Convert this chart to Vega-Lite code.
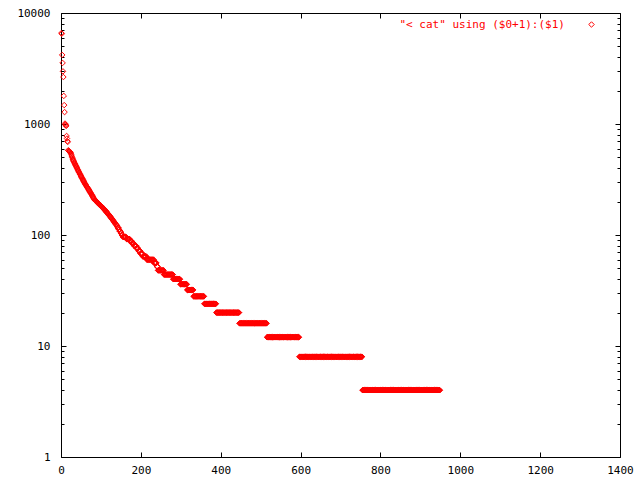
{
"$schema": "https://vega.github.io/schema/vega-lite/v6.json",
"width": 559, "height": 444,
"autosize": "none",
"padding": {"left": 61, "top": 13, "right": 20, "bottom": 23},
"background": "white",
"config": {
  "view": {"stroke": "#000000", "strokeWidth": 1},
  "font": "DejaVu Sans Mono",
  "axis": {"domain": false, "grid": false, "labelFont": "DejaVu Sans Mono", "labelFontSize": 11, "labelColor": "#000000", "tickColor": "#000000", "tickWidth": 1, "labelFlush": false, "labelOverlap": false, "title": null}
},
"data": {"values": [
{"rank":1,"count":6600},{"rank":2,"count":6500},{"rank":3,"count":4190},{"rank":4,"count":3550},{"rank":5,"count":2980},{"rank":6,"count":2650},{"rank":7,"count":1790},{"rank":8,"count":1480},{"rank":9,"count":1280},{"rank":10,"count":1010},
{"rank":11,"count":990},{"rank":12,"count":975},{"rank":13,"count":960},{"rank":14,"count":780},{"rank":15,"count":740},{"rank":16,"count":700},{"rank":17,"count":690},{"rank":18,"count":580},{"rank":19,"count":575},{"rank":20,"count":571},
{"rank":21,"count":567},{"rank":22,"count":563},{"rank":23,"count":559},{"rank":24,"count":555},{"rank":25,"count":541},{"rank":26,"count":527},{"rank":27,"count":514},{"rank":28,"count":501},{"rank":29,"count":488},{"rank":30,"count":476},
{"rank":31,"count":468},{"rank":32,"count":460},{"rank":33,"count":452},{"rank":34,"count":444},{"rank":35,"count":437},{"rank":36,"count":429},{"rank":37,"count":422},{"rank":38,"count":415},{"rank":39,"count":408},{"rank":40,"count":401},
{"rank":41,"count":394},{"rank":42,"count":388},{"rank":43,"count":381},{"rank":44,"count":375},{"rank":45,"count":368},{"rank":46,"count":362},{"rank":47,"count":356},{"rank":48,"count":351},{"rank":49,"count":345},{"rank":50,"count":340},
{"rank":51,"count":334},{"rank":52,"count":329},{"rank":53,"count":324},{"rank":54,"count":319},{"rank":55,"count":314},{"rank":56,"count":309},{"rank":57,"count":304},{"rank":58,"count":299},{"rank":59,"count":294},{"rank":60,"count":290},
{"rank":61,"count":286},{"rank":62,"count":282},{"rank":63,"count":279},{"rank":64,"count":275},{"rank":65,"count":271},{"rank":66,"count":268},{"rank":67,"count":264},{"rank":68,"count":261},{"rank":69,"count":257},{"rank":70,"count":254},
{"rank":71,"count":250},{"rank":72,"count":247},{"rank":73,"count":243},{"rank":74,"count":240},{"rank":75,"count":237},{"rank":76,"count":233},{"rank":77,"count":230},{"rank":78,"count":227},{"rank":79,"count":223},{"rank":80,"count":220},
{"rank":81,"count":217},{"rank":82,"count":214},{"rank":83,"count":211},{"rank":84,"count":208},{"rank":85,"count":206},{"rank":86,"count":205},{"rank":87,"count":203},{"rank":88,"count":201},{"rank":89,"count":200},{"rank":90,"count":198},
{"rank":91,"count":196},{"rank":92,"count":195},{"rank":93,"count":193},{"rank":94,"count":192},{"rank":95,"count":190},{"rank":96,"count":189},{"rank":97,"count":187},{"rank":98,"count":186},{"rank":99,"count":184},{"rank":100,"count":183},
{"rank":101,"count":181},{"rank":102,"count":179},{"rank":103,"count":178},{"rank":104,"count":176},{"rank":105,"count":175},{"rank":106,"count":173},{"rank":107,"count":172},{"rank":108,"count":170},{"rank":109,"count":169},{"rank":110,"count":167},
{"rank":111,"count":166},{"rank":112,"count":164},{"rank":113,"count":163},{"rank":114,"count":161},{"rank":115,"count":160},{"rank":116,"count":158},{"rank":117,"count":156},{"rank":118,"count":155},{"rank":119,"count":153},{"rank":120,"count":151},
{"rank":121,"count":150},{"rank":122,"count":148},{"rank":123,"count":147},{"rank":124,"count":145},{"rank":125,"count":144},{"rank":126,"count":142},{"rank":127,"count":140},{"rank":128,"count":139},{"rank":129,"count":137},{"rank":130,"count":136},
{"rank":131,"count":134},{"rank":132,"count":133},{"rank":133,"count":131},{"rank":134,"count":130},{"rank":135,"count":128},{"rank":136,"count":127},{"rank":137,"count":125},{"rank":138,"count":124},{"rank":139,"count":123},{"rank":140,"count":121},
{"rank":141,"count":120},{"rank":142,"count":116},{"rank":143,"count":116},{"rank":144,"count":116},{"rank":145,"count":112},{"rank":146,"count":112},{"rank":147,"count":108},{"rank":148,"count":108},{"rank":149,"count":108},{"rank":150,"count":104},
{"rank":151,"count":104},{"rank":152,"count":100},{"rank":153,"count":100},{"rank":154,"count":100},{"rank":155,"count":96},{"rank":156,"count":96},{"rank":157,"count":96},{"rank":158,"count":96},{"rank":159,"count":96},{"rank":160,"count":96},
{"rank":161,"count":96},{"rank":162,"count":96},{"rank":163,"count":96},{"rank":164,"count":92},{"rank":165,"count":92},{"rank":166,"count":92},{"rank":167,"count":92},{"rank":168,"count":92},{"rank":169,"count":92},{"rank":170,"count":92},
{"rank":171,"count":92},{"rank":172,"count":92},{"rank":173,"count":88},{"rank":174,"count":88},{"rank":175,"count":88},{"rank":176,"count":88},{"rank":177,"count":88},{"rank":178,"count":84},{"rank":179,"count":84},{"rank":180,"count":84},
{"rank":181,"count":84},{"rank":182,"count":84},{"rank":183,"count":80},{"rank":184,"count":80},{"rank":185,"count":80},{"rank":186,"count":80},{"rank":187,"count":80},{"rank":188,"count":80},{"rank":189,"count":76},{"rank":190,"count":76},
{"rank":191,"count":76},{"rank":192,"count":76},{"rank":193,"count":76},{"rank":194,"count":72},{"rank":195,"count":72},{"rank":196,"count":72},{"rank":197,"count":72},{"rank":198,"count":72},{"rank":199,"count":68},{"rank":200,"count":68},
{"rank":201,"count":68},{"rank":202,"count":68},{"rank":203,"count":68},{"rank":204,"count":68},{"rank":205,"count":64},{"rank":206,"count":64},{"rank":207,"count":64},{"rank":208,"count":64},{"rank":209,"count":64},{"rank":210,"count":64},
{"rank":211,"count":64},{"rank":212,"count":64},{"rank":213,"count":64},{"rank":214,"count":64},{"rank":215,"count":60},{"rank":216,"count":60},{"rank":217,"count":60},{"rank":218,"count":60},{"rank":219,"count":60},{"rank":220,"count":60},
{"rank":221,"count":60},{"rank":222,"count":60},{"rank":223,"count":60},{"rank":224,"count":60},{"rank":225,"count":60},{"rank":226,"count":60},{"rank":227,"count":60},{"rank":228,"count":60},{"rank":229,"count":60},{"rank":230,"count":60},
{"rank":231,"count":60},{"rank":232,"count":60},{"rank":233,"count":56},{"rank":234,"count":56},{"rank":235,"count":56},{"rank":236,"count":56},{"rank":237,"count":56},{"rank":238,"count":56},{"rank":239,"count":56},{"rank":240,"count":52},
{"rank":241,"count":52},{"rank":242,"count":52},{"rank":243,"count":48},{"rank":244,"count":48},{"rank":245,"count":48},{"rank":246,"count":48},{"rank":247,"count":48},{"rank":248,"count":48},{"rank":249,"count":48},{"rank":250,"count":48},
{"rank":251,"count":48},{"rank":252,"count":48},{"rank":253,"count":48},{"rank":254,"count":48},{"rank":255,"count":48},{"rank":256,"count":48},{"rank":257,"count":48},{"rank":258,"count":44},{"rank":259,"count":44},{"rank":260,"count":44},
{"rank":261,"count":44},{"rank":262,"count":44},{"rank":263,"count":44},{"rank":264,"count":44},{"rank":265,"count":44},{"rank":266,"count":44},{"rank":267,"count":44},{"rank":268,"count":44},{"rank":269,"count":44},{"rank":270,"count":44},
{"rank":271,"count":44},{"rank":272,"count":44},{"rank":273,"count":44},{"rank":274,"count":44},{"rank":275,"count":44},{"rank":276,"count":44},{"rank":277,"count":44},{"rank":278,"count":44},{"rank":279,"count":44},{"rank":280,"count":44},
{"rank":281,"count":40},{"rank":282,"count":40},{"rank":283,"count":40},{"rank":284,"count":40},{"rank":285,"count":40},{"rank":286,"count":40},{"rank":287,"count":40},{"rank":288,"count":40},{"rank":289,"count":40},{"rank":290,"count":40},
{"rank":291,"count":40},{"rank":292,"count":40},{"rank":293,"count":40},{"rank":294,"count":40},{"rank":295,"count":40},{"rank":296,"count":40},{"rank":297,"count":40},{"rank":298,"count":40},{"rank":299,"count":36},{"rank":300,"count":36},
{"rank":301,"count":36},{"rank":302,"count":36},{"rank":303,"count":36},{"rank":304,"count":36},{"rank":305,"count":36},{"rank":306,"count":36},{"rank":307,"count":36},{"rank":308,"count":36},{"rank":309,"count":36},{"rank":310,"count":36},
{"rank":311,"count":36},{"rank":312,"count":36},{"rank":313,"count":36},{"rank":314,"count":36},{"rank":315,"count":36},{"rank":316,"count":32},{"rank":317,"count":32},{"rank":318,"count":32},{"rank":319,"count":32},{"rank":320,"count":32},
{"rank":321,"count":32},{"rank":322,"count":32},{"rank":323,"count":32},{"rank":324,"count":32},{"rank":325,"count":32},{"rank":326,"count":32},{"rank":327,"count":32},{"rank":328,"count":32},{"rank":329,"count":32},{"rank":330,"count":32},
{"rank":331,"count":32},{"rank":332,"count":28},{"rank":333,"count":28},{"rank":334,"count":28},{"rank":335,"count":28},{"rank":336,"count":28},{"rank":337,"count":28},{"rank":338,"count":28},{"rank":339,"count":28},{"rank":340,"count":28},
{"rank":341,"count":28},{"rank":342,"count":28},{"rank":343,"count":28},{"rank":344,"count":28},{"rank":345,"count":28},{"rank":346,"count":28},{"rank":347,"count":28},{"rank":348,"count":28},{"rank":349,"count":28},{"rank":350,"count":28},
{"rank":351,"count":28},{"rank":352,"count":28},{"rank":353,"count":28},{"rank":354,"count":28},{"rank":355,"count":28},{"rank":356,"count":28},{"rank":357,"count":28},{"rank":358,"count":28},{"rank":359,"count":24},{"rank":360,"count":24},
{"rank":361,"count":24},{"rank":362,"count":24},{"rank":363,"count":24},{"rank":364,"count":24},{"rank":365,"count":24},{"rank":366,"count":24},{"rank":367,"count":24},{"rank":368,"count":24},{"rank":369,"count":24},{"rank":370,"count":24},
{"rank":371,"count":24},{"rank":372,"count":24},{"rank":373,"count":24},{"rank":374,"count":24},{"rank":375,"count":24},{"rank":376,"count":24},{"rank":377,"count":24},{"rank":378,"count":24},{"rank":379,"count":24},{"rank":380,"count":24},
{"rank":381,"count":24},{"rank":382,"count":24},{"rank":383,"count":24},{"rank":384,"count":24},{"rank":385,"count":24},{"rank":386,"count":24},{"rank":387,"count":24},{"rank":388,"count":24},{"rank":389,"count":20},{"rank":390,"count":20},
{"rank":391,"count":20},{"rank":392,"count":20},{"rank":393,"count":20},{"rank":394,"count":20},{"rank":395,"count":20},{"rank":396,"count":20},{"rank":397,"count":20},{"rank":398,"count":20},{"rank":399,"count":20},{"rank":400,"count":20},
{"rank":401,"count":20},{"rank":402,"count":20},{"rank":403,"count":20},{"rank":404,"count":20},{"rank":405,"count":20},{"rank":406,"count":20},{"rank":407,"count":20},{"rank":408,"count":20},{"rank":409,"count":20},{"rank":410,"count":20},
{"rank":411,"count":20},{"rank":412,"count":20},{"rank":413,"count":20},{"rank":414,"count":20},{"rank":415,"count":20},{"rank":416,"count":20},{"rank":417,"count":20},{"rank":418,"count":20},{"rank":419,"count":20},{"rank":420,"count":20},
{"rank":421,"count":20},{"rank":422,"count":20},{"rank":423,"count":20},{"rank":424,"count":20},{"rank":425,"count":20},{"rank":426,"count":20},{"rank":427,"count":20},{"rank":428,"count":20},{"rank":429,"count":20},{"rank":430,"count":20},
{"rank":431,"count":20},{"rank":432,"count":20},{"rank":433,"count":20},{"rank":434,"count":20},{"rank":435,"count":20},{"rank":436,"count":20},{"rank":437,"count":20},{"rank":438,"count":20},{"rank":439,"count":20},{"rank":440,"count":20},
{"rank":441,"count":20},{"rank":442,"count":20},{"rank":443,"count":20},{"rank":444,"count":20},{"rank":445,"count":20},{"rank":446,"count":20},{"rank":447,"count":16},{"rank":448,"count":16},{"rank":449,"count":16},{"rank":450,"count":16},
{"rank":451,"count":16},{"rank":452,"count":16},{"rank":453,"count":16},{"rank":454,"count":16},{"rank":455,"count":16},{"rank":456,"count":16},{"rank":457,"count":16},{"rank":458,"count":16},{"rank":459,"count":16},{"rank":460,"count":16},
{"rank":461,"count":16},{"rank":462,"count":16},{"rank":463,"count":16},{"rank":464,"count":16},{"rank":465,"count":16},{"rank":466,"count":16},{"rank":467,"count":16},{"rank":468,"count":16},{"rank":469,"count":16},{"rank":470,"count":16},
{"rank":471,"count":16},{"rank":472,"count":16},{"rank":473,"count":16},{"rank":474,"count":16},{"rank":475,"count":16},{"rank":476,"count":16},{"rank":477,"count":16},{"rank":478,"count":16},{"rank":479,"count":16},{"rank":480,"count":16},
{"rank":481,"count":16},{"rank":482,"count":16},{"rank":483,"count":16},{"rank":484,"count":16},{"rank":485,"count":16},{"rank":486,"count":16},{"rank":487,"count":16},{"rank":488,"count":16},{"rank":489,"count":16},{"rank":490,"count":16},
{"rank":491,"count":16},{"rank":492,"count":16},{"rank":493,"count":16},{"rank":494,"count":16},{"rank":495,"count":16},{"rank":496,"count":16},{"rank":497,"count":16},{"rank":498,"count":16},{"rank":499,"count":16},{"rank":500,"count":16},
{"rank":501,"count":16},{"rank":502,"count":16},{"rank":503,"count":16},{"rank":504,"count":16},{"rank":505,"count":16},{"rank":506,"count":16},{"rank":507,"count":16},{"rank":508,"count":16},{"rank":509,"count":16},{"rank":510,"count":16},
{"rank":511,"count":16},{"rank":512,"count":16},{"rank":513,"count":16},{"rank":514,"count":16},{"rank":515,"count":16},{"rank":516,"count":12},{"rank":517,"count":12},{"rank":518,"count":12},{"rank":519,"count":12},{"rank":520,"count":12},
{"rank":521,"count":12},{"rank":522,"count":12},{"rank":523,"count":12},{"rank":524,"count":12},{"rank":525,"count":12},{"rank":526,"count":12},{"rank":527,"count":12},{"rank":528,"count":12},{"rank":529,"count":12},{"rank":530,"count":12},
{"rank":531,"count":12},{"rank":532,"count":12},{"rank":533,"count":12},{"rank":534,"count":12},{"rank":535,"count":12},{"rank":536,"count":12},{"rank":537,"count":12},{"rank":538,"count":12},{"rank":539,"count":12},{"rank":540,"count":12},
{"rank":541,"count":12},{"rank":542,"count":12},{"rank":543,"count":12},{"rank":544,"count":12},{"rank":545,"count":12},{"rank":546,"count":12},{"rank":547,"count":12},{"rank":548,"count":12},{"rank":549,"count":12},{"rank":550,"count":12},
{"rank":551,"count":12},{"rank":552,"count":12},{"rank":553,"count":12},{"rank":554,"count":12},{"rank":555,"count":12},{"rank":556,"count":12},{"rank":557,"count":12},{"rank":558,"count":12},{"rank":559,"count":12},{"rank":560,"count":12},
{"rank":561,"count":12},{"rank":562,"count":12},{"rank":563,"count":12},{"rank":564,"count":12},{"rank":565,"count":12},{"rank":566,"count":12},{"rank":567,"count":12},{"rank":568,"count":12},{"rank":569,"count":12},{"rank":570,"count":12},
{"rank":571,"count":12},{"rank":572,"count":12},{"rank":573,"count":12},{"rank":574,"count":12},{"rank":575,"count":12},{"rank":576,"count":12},{"rank":577,"count":12},{"rank":578,"count":12},{"rank":579,"count":12},{"rank":580,"count":12},
{"rank":581,"count":12},{"rank":582,"count":12},{"rank":583,"count":12},{"rank":584,"count":12},{"rank":585,"count":12},{"rank":586,"count":12},{"rank":587,"count":12},{"rank":588,"count":12},{"rank":589,"count":12},{"rank":590,"count":12},
{"rank":591,"count":12},{"rank":592,"count":12},{"rank":593,"count":12},{"rank":594,"count":12},{"rank":595,"count":12},{"rank":596,"count":12},{"rank":597,"count":8},{"rank":598,"count":8},{"rank":599,"count":8},{"rank":600,"count":8},
{"rank":601,"count":8},{"rank":602,"count":8},{"rank":603,"count":8},{"rank":604,"count":8},{"rank":605,"count":8},{"rank":606,"count":8},{"rank":607,"count":8},{"rank":608,"count":8},{"rank":609,"count":8},{"rank":610,"count":8},
{"rank":611,"count":8},{"rank":612,"count":8},{"rank":613,"count":8},{"rank":614,"count":8},{"rank":615,"count":8},{"rank":616,"count":8},{"rank":617,"count":8},{"rank":618,"count":8},{"rank":619,"count":8},{"rank":620,"count":8},
{"rank":621,"count":8},{"rank":622,"count":8},{"rank":623,"count":8},{"rank":624,"count":8},{"rank":625,"count":8},{"rank":626,"count":8},{"rank":627,"count":8},{"rank":628,"count":8},{"rank":629,"count":8},{"rank":630,"count":8},
{"rank":631,"count":8},{"rank":632,"count":8},{"rank":633,"count":8},{"rank":634,"count":8},{"rank":635,"count":8},{"rank":636,"count":8},{"rank":637,"count":8},{"rank":638,"count":8},{"rank":639,"count":8},{"rank":640,"count":8},
{"rank":641,"count":8},{"rank":642,"count":8},{"rank":643,"count":8},{"rank":644,"count":8},{"rank":645,"count":8},{"rank":646,"count":8},{"rank":647,"count":8},{"rank":648,"count":8},{"rank":649,"count":8},{"rank":650,"count":8},
{"rank":651,"count":8},{"rank":652,"count":8},{"rank":653,"count":8},{"rank":654,"count":8},{"rank":655,"count":8},{"rank":656,"count":8},{"rank":657,"count":8},{"rank":658,"count":8},{"rank":659,"count":8},{"rank":660,"count":8},
{"rank":661,"count":8},{"rank":662,"count":8},{"rank":663,"count":8},{"rank":664,"count":8},{"rank":665,"count":8},{"rank":666,"count":8},{"rank":667,"count":8},{"rank":668,"count":8},{"rank":669,"count":8},{"rank":670,"count":8},
{"rank":671,"count":8},{"rank":672,"count":8},{"rank":673,"count":8},{"rank":674,"count":8},{"rank":675,"count":8},{"rank":676,"count":8},{"rank":677,"count":8},{"rank":678,"count":8},{"rank":679,"count":8},{"rank":680,"count":8},
{"rank":681,"count":8},{"rank":682,"count":8},{"rank":683,"count":8},{"rank":684,"count":8},{"rank":685,"count":8},{"rank":686,"count":8},{"rank":687,"count":8},{"rank":688,"count":8},{"rank":689,"count":8},{"rank":690,"count":8},
{"rank":691,"count":8},{"rank":692,"count":8},{"rank":693,"count":8},{"rank":694,"count":8},{"rank":695,"count":8},{"rank":696,"count":8},{"rank":697,"count":8},{"rank":698,"count":8},{"rank":699,"count":8},{"rank":700,"count":8},
{"rank":701,"count":8},{"rank":702,"count":8},{"rank":703,"count":8},{"rank":704,"count":8},{"rank":705,"count":8},{"rank":706,"count":8},{"rank":707,"count":8},{"rank":708,"count":8},{"rank":709,"count":8},{"rank":710,"count":8},
{"rank":711,"count":8},{"rank":712,"count":8},{"rank":713,"count":8},{"rank":714,"count":8},{"rank":715,"count":8},{"rank":716,"count":8},{"rank":717,"count":8},{"rank":718,"count":8},{"rank":719,"count":8},{"rank":720,"count":8},
{"rank":721,"count":8},{"rank":722,"count":8},{"rank":723,"count":8},{"rank":724,"count":8},{"rank":725,"count":8},{"rank":726,"count":8},{"rank":727,"count":8},{"rank":728,"count":8},{"rank":729,"count":8},{"rank":730,"count":8},
{"rank":731,"count":8},{"rank":732,"count":8},{"rank":733,"count":8},{"rank":734,"count":8},{"rank":735,"count":8},{"rank":736,"count":8},{"rank":737,"count":8},{"rank":738,"count":8},{"rank":739,"count":8},{"rank":740,"count":8},
{"rank":741,"count":8},{"rank":742,"count":8},{"rank":743,"count":8},{"rank":744,"count":8},{"rank":745,"count":8},{"rank":746,"count":8},{"rank":747,"count":8},{"rank":748,"count":8},{"rank":749,"count":8},{"rank":750,"count":8},
{"rank":751,"count":8},{"rank":752,"count":8},{"rank":753,"count":8},{"rank":754,"count":8},{"rank":755,"count":4},{"rank":756,"count":4},{"rank":757,"count":4},{"rank":758,"count":4},{"rank":759,"count":4},{"rank":760,"count":4},
{"rank":761,"count":4},{"rank":762,"count":4},{"rank":763,"count":4},{"rank":764,"count":4},{"rank":765,"count":4},{"rank":766,"count":4},{"rank":767,"count":4},{"rank":768,"count":4},{"rank":769,"count":4},{"rank":770,"count":4},
{"rank":771,"count":4},{"rank":772,"count":4},{"rank":773,"count":4},{"rank":774,"count":4},{"rank":775,"count":4},{"rank":776,"count":4},{"rank":777,"count":4},{"rank":778,"count":4},{"rank":779,"count":4},{"rank":780,"count":4},
{"rank":781,"count":4},{"rank":782,"count":4},{"rank":783,"count":4},{"rank":784,"count":4},{"rank":785,"count":4},{"rank":786,"count":4},{"rank":787,"count":4},{"rank":788,"count":4},{"rank":789,"count":4},{"rank":790,"count":4},
{"rank":791,"count":4},{"rank":792,"count":4},{"rank":793,"count":4},{"rank":794,"count":4},{"rank":795,"count":4},{"rank":796,"count":4},{"rank":797,"count":4},{"rank":798,"count":4},{"rank":799,"count":4},{"rank":800,"count":4},
{"rank":801,"count":4},{"rank":802,"count":4},{"rank":803,"count":4},{"rank":804,"count":4},{"rank":805,"count":4},{"rank":806,"count":4},{"rank":807,"count":4},{"rank":808,"count":4},{"rank":809,"count":4},{"rank":810,"count":4},
{"rank":811,"count":4},{"rank":812,"count":4},{"rank":813,"count":4},{"rank":814,"count":4},{"rank":815,"count":4},{"rank":816,"count":4},{"rank":817,"count":4},{"rank":818,"count":4},{"rank":819,"count":4},{"rank":820,"count":4},
{"rank":821,"count":4},{"rank":822,"count":4},{"rank":823,"count":4},{"rank":824,"count":4},{"rank":825,"count":4},{"rank":826,"count":4},{"rank":827,"count":4},{"rank":828,"count":4},{"rank":829,"count":4},{"rank":830,"count":4},
{"rank":831,"count":4},{"rank":832,"count":4},{"rank":833,"count":4},{"rank":834,"count":4},{"rank":835,"count":4},{"rank":836,"count":4},{"rank":837,"count":4},{"rank":838,"count":4},{"rank":839,"count":4},{"rank":840,"count":4},
{"rank":841,"count":4},{"rank":842,"count":4},{"rank":843,"count":4},{"rank":844,"count":4},{"rank":845,"count":4},{"rank":846,"count":4},{"rank":847,"count":4},{"rank":848,"count":4},{"rank":849,"count":4},{"rank":850,"count":4},
{"rank":851,"count":4},{"rank":852,"count":4},{"rank":853,"count":4},{"rank":854,"count":4},{"rank":855,"count":4},{"rank":856,"count":4},{"rank":857,"count":4},{"rank":858,"count":4},{"rank":859,"count":4},{"rank":860,"count":4},
{"rank":861,"count":4},{"rank":862,"count":4},{"rank":863,"count":4},{"rank":864,"count":4},{"rank":865,"count":4},{"rank":866,"count":4},{"rank":867,"count":4},{"rank":868,"count":4},{"rank":869,"count":4},{"rank":870,"count":4},
{"rank":871,"count":4},{"rank":872,"count":4},{"rank":873,"count":4},{"rank":874,"count":4},{"rank":875,"count":4},{"rank":876,"count":4},{"rank":877,"count":4},{"rank":878,"count":4},{"rank":879,"count":4},{"rank":880,"count":4},
{"rank":881,"count":4},{"rank":882,"count":4},{"rank":883,"count":4},{"rank":884,"count":4},{"rank":885,"count":4},{"rank":886,"count":4},{"rank":887,"count":4},{"rank":888,"count":4},{"rank":889,"count":4},{"rank":890,"count":4},
{"rank":891,"count":4},{"rank":892,"count":4},{"rank":893,"count":4},{"rank":894,"count":4},{"rank":895,"count":4},{"rank":896,"count":4},{"rank":897,"count":4},{"rank":898,"count":4},{"rank":899,"count":4},{"rank":900,"count":4},
{"rank":901,"count":4},{"rank":902,"count":4},{"rank":903,"count":4},{"rank":904,"count":4},{"rank":905,"count":4},{"rank":906,"count":4},{"rank":907,"count":4},{"rank":908,"count":4},{"rank":909,"count":4},{"rank":910,"count":4},
{"rank":911,"count":4},{"rank":912,"count":4},{"rank":913,"count":4},{"rank":914,"count":4},{"rank":915,"count":4},{"rank":916,"count":4},{"rank":917,"count":4},{"rank":918,"count":4},{"rank":919,"count":4},{"rank":920,"count":4},
{"rank":921,"count":4},{"rank":922,"count":4},{"rank":923,"count":4},{"rank":924,"count":4},{"rank":925,"count":4},{"rank":926,"count":4},{"rank":927,"count":4},{"rank":928,"count":4},{"rank":929,"count":4},{"rank":930,"count":4},
{"rank":931,"count":4},{"rank":932,"count":4},{"rank":933,"count":4},{"rank":934,"count":4},{"rank":935,"count":4},{"rank":936,"count":4},{"rank":937,"count":4},{"rank":938,"count":4},{"rank":939,"count":4},{"rank":940,"count":4},
{"rank":941,"count":4},{"rank":942,"count":4},{"rank":943,"count":4},{"rank":944,"count":4},{"rank":945,"count":4},{"rank":946,"count":4},{"rank":947,"count":4},{"rank":948,"count":4},{"rank":949,"count":4}
]},
"layer": [
  {
    "mark": {"type": "point", "shape": "diamond", "filled": false, "size": 30, "strokeWidth": 1, "opacity": 1},
    "encoding": {
      "x": {"field": "rank", "type": "quantitative",
            "scale": {"domain": [0, 1400], "nice": false, "zero": false},
            "axis": {"orient": "bottom", "values": [0,200,400,600,800,1000,1200,1400], "format": "d", "tickSize": -5, "labelPadding": 12, "labelDx": 3, "labelBaseline": "top"}},
      "y": {"field": "count", "type": "quantitative",
            "scale": {"type": "log", "domain": [1, 10000], "nice": false},
            "axis": {"orient": "left",
                     "values": [1,2,3,4,5,6,7,8,9,10,20,30,40,50,60,70,80,90,100,200,300,400,500,600,700,800,900,1000,2000,3000,4000,5000,6000,7000,8000,9000,10000],
                     "format": "d",
                     "labelExpr": "(datum.value==1||datum.value==10||datum.value==100||datum.value==1000||datum.value==10000) ? datum.label : ''",
                     "tickSize": {"condition": {"test": "datum.value==1||datum.value==10||datum.value==100||datum.value==1000||datum.value==10000", "value": -5}, "value": -3},
                     "labelPadding": 16}},
      "color": {"datum": "\"< cat\" using ($0+1):($1)", "type": "nominal",
                "scale": {"range": ["#ff0000"]},
                "legend": {"title": null, "orient": "none", "legendX": 525, "legendY": 6, "padding": 0,
                           "symbolType": "diamond", "symbolSize": 30, "symbolStrokeWidth": 1, "symbolFillColor": "transparent",
                           "labelFont": "DejaVu Sans Mono", "labelFontSize": 11, "labelColor": "#ff0000", "labelLimit": 0,
                           "labelAlign": "right", "labelOffset": -32}}
    }
  },
  {
    "mark": {"type": "point", "opacity": 0},
    "encoding": {
      "x": {"field": "rank", "type": "quantitative",
            "axis": {"orient": "top", "values": [0,200,400,600,800,1000,1200,1400], "tickSize": -5, "labels": false}},
      "y": {"field": "count", "type": "quantitative",
            "axis": {"orient": "right",
                     "values": [1,2,3,4,5,6,7,8,9,10,20,30,40,50,60,70,80,90,100,200,300,400,500,600,700,800,900,1000,2000,3000,4000,5000,6000,7000,8000,9000,10000],
                     "labels": false,
                     "tickSize": {"condition": {"test": "datum.value==1||datum.value==10||datum.value==100||datum.value==1000||datum.value==10000", "value": -5}, "value": -3}}}
    }
  }
],
"resolve": {"axis": {"x": "independent", "y": "independent"}}
}
